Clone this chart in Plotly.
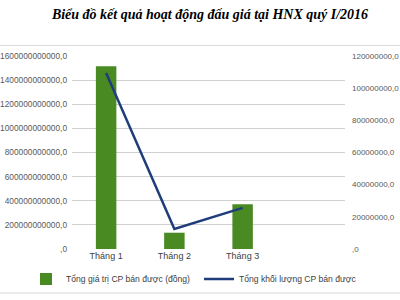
import plotly.graph_objects as go

months = ["Tháng 1", "Tháng 2", "Tháng 3"]
gia_tri = [1515000000000, 135000000000, 370000000000]
khoi_luong = [109400000, 12400000, 25600000]

left_tickvals = [0, 200e9, 400e9, 600e9, 800e9, 1000e9, 1200e9, 1400e9, 1600e9]
left_ticktext = [",0", "200000000000,0", "400000000000,0", "600000000000,0", "800000000000,0",
                 "1000000000000,0", "1200000000000,0", "1400000000000,0", "1600000000000,0"]
right_tickvals = [0, 20e6, 40e6, 60e6, 80e6, 100e6, 120e6]
right_ticktext = [",0", "20000000,0", "40000000,0", "60000000,0", "80000000,0", "100000000,0", "120000000,0"]

title = "Biểu đồ kết quả hoạt động đấu giá tại HNX quý I/2016"

fig = go.Figure()
fig.add_trace(go.Bar(x=months, y=gia_tri, name="Tổng giá trị CP bán được (đồng)",
                     marker=dict(color="#4a8a23", line=dict(width=0)), width=0.3, yaxis="y",
                     legend="legend", showlegend=True))
fig.add_trace(go.Scatter(x=months, y=khoi_luong, name="Tổng khối lượng CP bán được",
                         mode="lines", line=dict(color="#1f3d7a", width=2.5), yaxis="y2",
                         legend="legend2", showlegend=True))

tick_font = dict(family="Liberation Sans, Arial, sans-serif", size=8.3, color="#595959")
legend_font = dict(family="Liberation Sans, Arial, sans-serif", size=8.6, color="#404040")
fig.update_layout(
    width=400, height=300,
    showlegend=True,
    margin=dict(l=72, r=55, t=56, b=51, autoexpand=False),
    paper_bgcolor="white", plot_bgcolor="white",
    title=dict(text="<b><i>" + title + "</i></b>", x=0.525, xanchor="center", y=0.953, yanchor="middle",
               yref="container",
               font=dict(family="Liberation Serif, Times New Roman, serif", size=14, color="black")),
    xaxis=dict(type="category", categoryorder="array", categoryarray=months + [" "],
               range=[-0.5, 3.5], showgrid=False, showline=False, ticks="",
               tickfont=dict(family="Liberation Sans, Arial, sans-serif", size=9, color="#404040")),
    yaxis=dict(range=[0, 1600e9], tickvals=left_tickvals, ticktext=left_ticktext,
               showgrid=True, gridcolor="#d0d0d0", gridwidth=1, zeroline=False,
               tickfont=tick_font, ticks="", ticklabelstandoff=4),
    yaxis2=dict(range=[0, 120e6], tickvals=right_tickvals, ticktext=right_ticktext,
                overlaying="y", side="right", showgrid=False, zeroline=False,
                tickfont=dict(family="Liberation Sans, Arial, sans-serif", size=8, color="#595959"),
                ticks="", ticklabelstandoff=6),
    legend=dict(visible=True, orientation="h", xref="container", yref="container",
                x=0.065, xanchor="left", y=0.07, yanchor="middle",
                font=legend_font, itemwidth=30, bgcolor="rgba(0,0,0,0)"),
    legend2=dict(visible=True, orientation="h", xref="container", yref="container",
                 x=0.4975, xanchor="left", y=0.07, yanchor="middle",
                 font=legend_font, itemwidth=30, bgcolor="rgba(0,0,0,0)"),
    shapes=[
        dict(type="line", xref="paper", yref="paper", x0=-0.3, x1=1.3, y0=1.055, y1=1.055,
             line=dict(color="#d9d9d9", width=1)),
        dict(type="line", xref="paper", yref="paper", x0=-0.3, x1=1.3, y0=-0.228, y1=-0.228,
             line=dict(color="#d9d9d9", width=1)),
    ],
)

fig.write_html("out.html")
